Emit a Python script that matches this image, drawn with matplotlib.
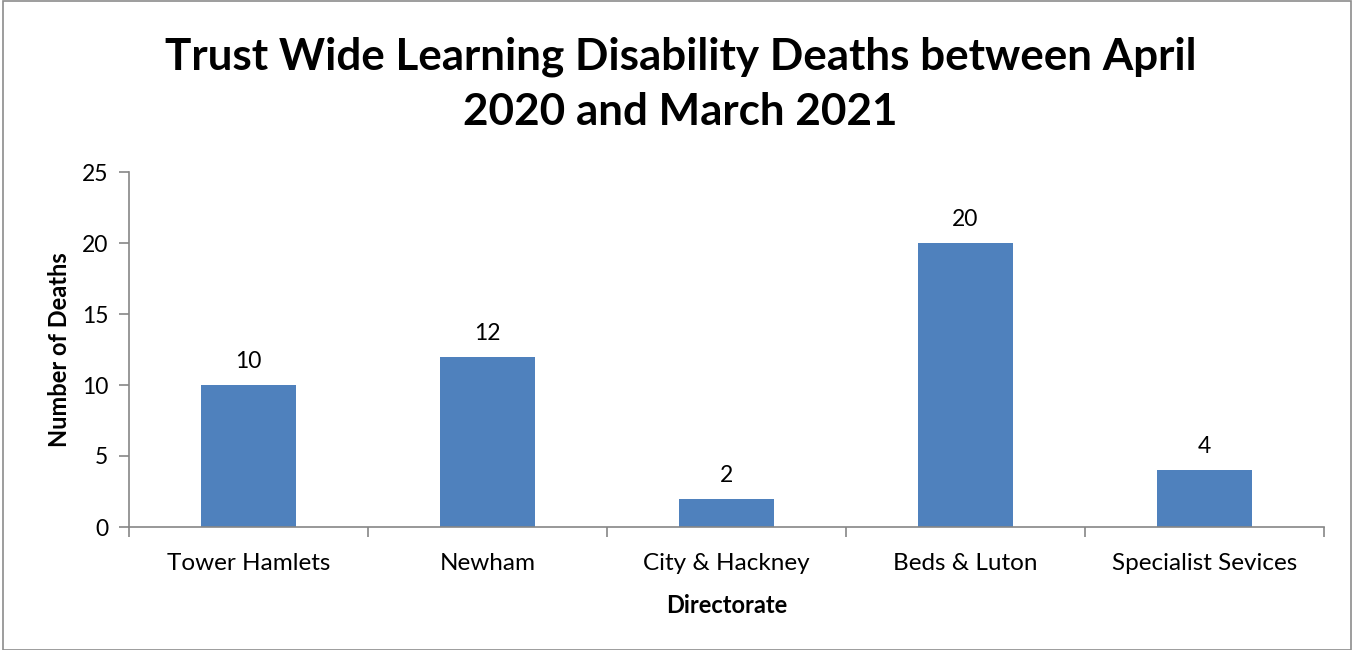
import matplotlib
matplotlib.use("Agg")
import matplotlib.pyplot as plt
from matplotlib.patches import Rectangle

categories = ["Tower Hamlets", "Newham", "City & Hackney", "Beds & Luton", "Specialist Sevices"]
deaths = [10, 12, 2, 20, 4]
yticks = [0, 5, 10, 15, 20, 25]

plt.rcParams['font.family'] = ['Lato', 'DejaVu Sans']

W, H = 1353, 650
fig = plt.figure(figsize=(W/100, H/100), dpi=100)
ax = fig.add_axes([129/W, 1-527/H, (1324-129)/W, (527-172)/H])

gray = "#868686"
x = list(range(len(categories)))
ax.bar(x, deaths, width=0.4, color="#4F81BD", zorder=2)
for xi, v in zip(x, deaths):
    ax.text(xi, v + 0.9, str(v), ha="center", va="bottom", fontsize=16.5)

ax.set_xlim(-0.5, len(categories) - 0.5)
ax.set_ylim(0, 25)
ax.set_yticks(yticks)
ax.set_xticks(x)
ax.set_xticklabels(categories, fontsize=17.5)
ax.set_xticks([i - 0.5 for i in range(len(categories) + 1)], minor=True)
ax.tick_params(axis="x", which="major", length=0, pad=19)
ax.tick_params(axis="x", which="minor", length=7, color=gray, width=1.2, direction="out")
ax.tick_params(axis="y", length=7, color=gray, width=1.2, labelsize=16.5, pad=8)
for s in ["top", "right"]:
    ax.spines[s].set_visible(False)
for s in ["left", "bottom"]:
    ax.spines[s].set_color(gray)
    ax.spines[s].set_linewidth(1.2)

ax.set_ylabel("Number of Deaths", fontsize=17, fontweight="bold", labelpad=8)
ax.set_xlabel("Directorate", fontsize=17, fontweight="bold", labelpad=14)

fig.text(0.503, 1-84/H, "Trust Wide Learning Disability Deaths between April\n2020 and March 2021",
         ha="center", va="center", fontsize=31.7, fontweight="bold", linespacing=1.45)

fig.patches.append(Rectangle((3/W, 0), (1351-3)/W, 1-1/H, transform=fig.transFigure,
                             fill=False, edgecolor="#8c8c8c", linewidth=1.2))

fig.savefig("out.png", dpi=100)
